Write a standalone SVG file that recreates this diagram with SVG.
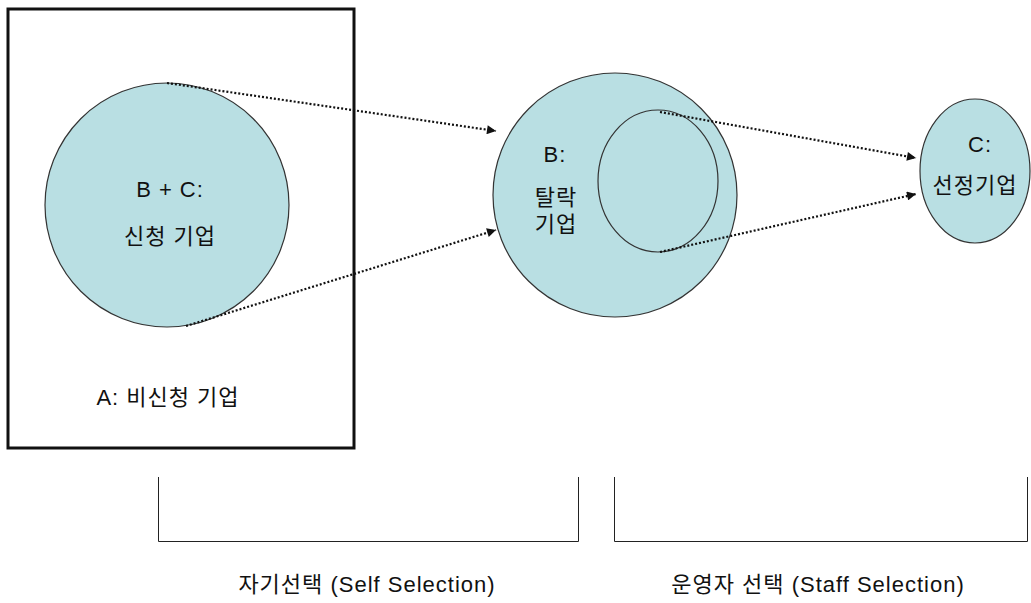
<svg xmlns="http://www.w3.org/2000/svg" width="1031" height="603" viewBox="0 0 1031 603">
<style>
text{font-family:"Liberation Sans","Noto Sans CJK KR",sans-serif;font-size:22px;letter-spacing:1px;fill:#111;text-anchor:middle}
.c{fill:#b9dfe3;stroke:#333;stroke-width:1.2}
.d{stroke:#111;stroke-width:2.2;stroke-dasharray:2 2;fill:none;marker-end:url(#ah)}
.b{fill:none;stroke:#222;stroke-width:1}
</style>
<defs>
<marker id="ah" viewBox="0 0 10 10" refX="10" refY="5" markerWidth="10" markerHeight="9" markerUnits="userSpaceOnUse" orient="auto">
<path d="M0,0L10,5L0,10z" fill="#111"/>
</marker>
</defs>
<rect width="1031" height="603" fill="#fff"/>
<g id="A">
<rect x="8" y="9" width="346" height="439" fill="none" stroke="#111" stroke-width="3"/>
<text x="168" y="405">A: 비신청 기업</text>
</g>
<g id="BC">
<circle class="c" cx="167" cy="205" r="122"/>
<text x="170" y="197">B + C:</text>
<text x="170" y="244">신청 기업</text>
</g>
<g id="B">
<circle class="c" cx="615" cy="195" r="122"/>
<ellipse class="c" cx="658" cy="181" rx="60" ry="71"/>
<text x="555" y="162">B:</text>
<text x="556" y="205">탈락</text>
<text x="556" y="232">기업</text>
</g>
<g id="C">
<ellipse class="c" cx="975" cy="171" rx="55" ry="72"/>
<text x="980" y="152">C:</text>
<text x="975" y="193">선정기업</text>
</g>
<g id="connectors">
<path class="d" d="M167,83L496,131"/>
<path class="d" d="M186,326L496,230"/>
<path class="d" d="M660,112L916,158"/>
<path class="d" d="M660,252L916,194"/>
</g>
<g id="brackets">
<path class="b" d="M158.5,477V541.5H578.5V477"/>
<path class="b" d="M614.5,477V541.5H1027.5V477"/>
<text x="367" y="592">자기선택 (Self Selection)</text>
<text x="818" y="592">운영자 선택 (Staff Selection)</text>
</g>
</svg>
